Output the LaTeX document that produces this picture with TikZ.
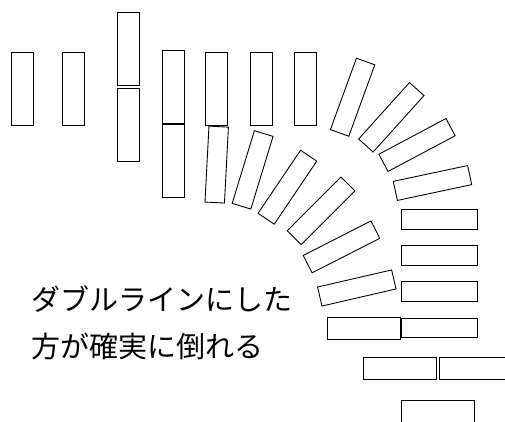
\documentclass[tikz,border=0pt]{standalone}
\usepackage{fontspec}
\newfontfamily\cjk{Noto Sans CJK JP}

\begin{document}
\begin{tikzpicture}[x=0.2mm, y=0.2mm,
    domino/.style={draw, line width=0.5pt, inner sep=0pt, minimum width=4.4mm, minimum height=14.6mm},
    slim/.style={draw, line width=0.5pt, inner sep=0pt, minimum width=3.9mm, minimum height=15.2mm}]
    \useasboundingbox (0,0) rectangle (505,421);

    % top row
    \node[domino] (R1) at (22,332.5) {};
    \node[domino] (R2) at (73.5,332.5) {};
    \node[domino] (R3a) at (128.3,372.2) {};
    \node[domino] (R3b) at (128.3,296.2) {};
    \node[domino] (R4a) at (173.5,334.3) {};
    \node[domino] (R4b) at (173.5,259.8) {};
    \node[domino] (R5) at (216.5,332.5) {};
    \node[domino] (R6) at (261,332.5) {};
    \node[domino] (R7) at (305.7,332.5) {};

    % outer arc
    \node[slim, rotate=-20] (U1) at (352.6,323.8) {};
    \node[slim, rotate=-42] (U2) at (391.3,303.7) {};
    \node[slim, rotate=-62] (U3) at (417,276) {};
    \node[slim, rotate=-78] (U4) at (432.5,238) {};
    \node[slim, rotate=-90] (U5) at (439.3,201.8) {};
    \node[slim, rotate=-90] (U6) at (439.3,165.5) {};
    \node[slim, rotate=-90] (U7) at (439.3,129.5) {};
    \node[slim, rotate=-90] (U8) at (439.3,93.2) {};

    % inner arc
    \node[slim, rotate=-3] (L1) at (216.7,256.4) {};
    \node[slim, rotate=-17] (L2) at (252.6,251.1) {};
    \node[slim, rotate=-34] (L3) at (287.4,233.8) {};
    \node[slim, rotate=-45] (L4) at (321.1,210.2) {};
    \node[slim, rotate=-63] (L5) at (341.5,174.1) {};
    \node[slim, rotate=-77] (L6) at (356.8,133) {};
    \node[domino, rotate=-90] (L7) at (363.8,92.5) {};

    % bottom rows
    \node[domino, rotate=-90] (B1) at (400,52.5) {};
    \node[domino, rotate=-90] (B2) at (475.8,52.5) {};
    \node[domino, rotate=-90] (B3) at (438,9.3) {};

    \node[font=\cjk\fontsize{16.5}{26.7}\selectfont, align=left, anchor=west, inner sep=0pt] (note) at (31,98.5) {ダブルラインにした\\方が確実に倒れる};
\end{tikzpicture}
\end{document}
